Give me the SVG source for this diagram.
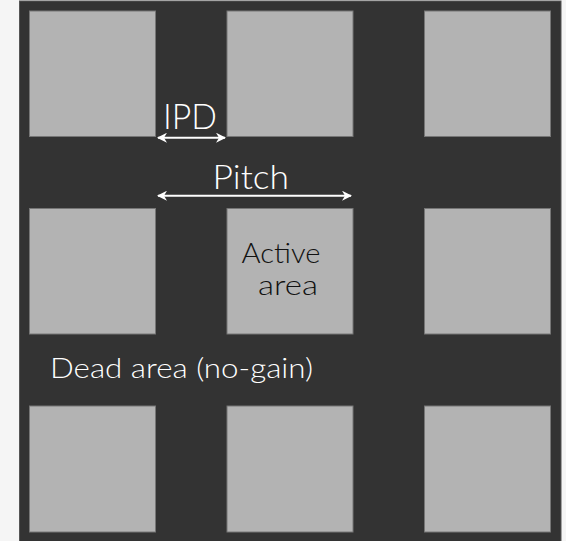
<svg xmlns="http://www.w3.org/2000/svg" width="566" height="541" viewBox="0 0 566 541">
  <defs>
    <style>
      .pad { fill: #b3b3b3; stroke: #767676; stroke-width: 1; }
      .dim { stroke: #ffffff; stroke-width: 2; fill: none; }
      .wt { fill: #ffffff; font-family: Lato, "Noto Sans", "Liberation Sans", sans-serif; font-weight: 300; }
      .bk { fill: #111111; font-family: Lato, "Noto Sans", "Liberation Sans", sans-serif; font-weight: 300; }
    </style>
    <marker id="ah" viewBox="0 0 10 10" refX="9" refY="5" markerWidth="5" markerHeight="5" orient="auto-start-reverse" markerUnits="strokeWidth">
      <path d="M0,0 L10,5 L0,10 L3,5 z" fill="#ffffff"/>
    </marker>
  </defs>
  <rect x="0" y="0" width="566" height="541" fill="#f5f5f5"/>
  <rect x="19.5" y="1" width="541.5" height="541" fill="#333333" stroke="#555555" stroke-width="1"/>

  <g id="pad-r1c1"><rect class="pad" x="29.5" y="11" width="126" height="125.5"/></g>
  <g id="pad-r1c2"><rect class="pad" x="227" y="11" width="126" height="125.5"/></g>
  <g id="pad-r1c3"><rect class="pad" x="424.5" y="11" width="126" height="125.5"/></g>
  <g id="pad-r2c1"><rect class="pad" x="29.5" y="208.5" width="126" height="125.5"/></g>
  <g id="pad-r2c2"><rect class="pad" x="227" y="208.5" width="126" height="125.5"/>
    <text class="bk" x="241.5" y="262.5" font-size="27" textLength="79" lengthAdjust="spacingAndGlyphs">Active</text>
    <text class="bk" x="258" y="295" font-size="27" textLength="60" lengthAdjust="spacingAndGlyphs">area</text>
  </g>
  <g id="pad-r2c3"><rect class="pad" x="424.5" y="208.5" width="126" height="125.5"/></g>
  <g id="pad-r3c1"><rect class="pad" x="29.5" y="406" width="126" height="126"/></g>
  <g id="pad-r3c2"><rect class="pad" x="227" y="406" width="126" height="126"/></g>
  <g id="pad-r3c3"><rect class="pad" x="424.5" y="406" width="126" height="126"/></g>

  <g id="connectors">
    <line class="dim" x1="158" y1="137.7" x2="225" y2="137.7" marker-start="url(#ah)" marker-end="url(#ah)"/>
    <line class="dim" x1="158" y1="195.7" x2="351" y2="195.7" marker-start="url(#ah)" marker-end="url(#ah)"/>
  </g>

  <g id="labels">
    <text class="wt" x="163" y="129" font-size="36" textLength="54" lengthAdjust="spacingAndGlyphs">IPD</text>
    <text class="wt" x="212.5" y="189" font-size="33" textLength="76.5" lengthAdjust="spacingAndGlyphs">Pitch</text>
    <text class="wt" x="50" y="378.3" font-size="27" textLength="263" lengthAdjust="spacingAndGlyphs">Dead area (no-gain)</text>
  </g>
</svg>
